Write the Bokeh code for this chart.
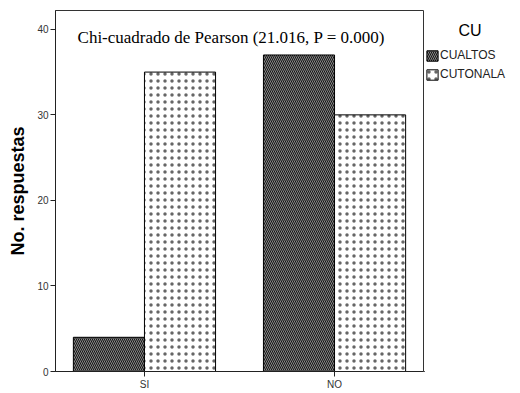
from bokeh.plotting import figure
from bokeh.layouts import row
from bokeh.models import (ColumnDataSource, Range1d, FixedTicker, Legend, LegendItem, Label)
from bokeh.transform import dodge
from bokeh.embed import file_html
from bokeh.resources import INLINE

# ---- data ----
categories = ["SI", "NO"]
cat_pos = [1, 2]
groups = ["CUALTOS", "CUTONALA"]
cualtos = [4, 37]
cutonala = [35, 30]
y_ticks = [0, 10, 20, 30, 40]
annotation = "Chi-cuadrado de Pearson (21.016, P = 0.000)"
legend_title = "CU"

src = ColumnDataSource(dict(x=cat_pos, cualtos=cualtos, cutonala=cutonala))

H = 392
FRAME_BOTTOM = 372  # page y of the frame bottom (shared by both panels)
bw = 0.374
style1 = dict(fill_color="#161616", line_color="black", line_width=1,
              hatch_pattern="\\", hatch_color="#888888", hatch_scale=4, hatch_weight=1)
style2 = dict(fill_color="white", line_color="black", line_width=1,
              hatch_pattern="dot", hatch_color="#666666", hatch_scale=7, hatch_weight=1)

# ---- main chart ----
p = figure(width=424, height=H, output_backend="svg", toolbar_location=None,
           x_range=Range1d(0.532, 2.468), y_range=Range1d(0, 42.2),
           min_border_left=55, min_border_top=10, min_border_right=1, min_border_bottom=0)
p.background_fill_color = "white"
p.border_fill_color = "white"

p.vbar(x=dodge("x", -bw / 2), top="cualtos", width=bw, source=src, **style1)
p.vbar(x=dodge("x", bw / 2), top="cutonala", width=bw, source=src, **style2)

p.xgrid.visible = False
p.ygrid.visible = False
p.outline_line_color = "#333333"

p.xaxis.ticker = FixedTicker(ticks=cat_pos)
p.xaxis.major_label_overrides = {x: c for x, c in zip(cat_pos, categories)}
p.yaxis.ticker = FixedTicker(ticks=y_ticks)
for ax in (p.xaxis[0], p.yaxis[0]):
    ax.major_tick_in = 0
    ax.major_tick_out = 5
    ax.minor_tick_in = 0
    ax.minor_tick_out = 0
    ax.major_label_text_font = "Liberation Sans"
    ax.major_label_text_font_size = "10px"
    ax.major_label_text_color = "#333333"
    ax.axis_line_color = "#222222"
    ax.major_tick_line_color = "#222222"
    ax.major_label_standoff = 2
p.yaxis.axis_label = "No. respuestas"
p.yaxis.axis_label_text_font = "Liberation Sans"
p.yaxis.axis_label_text_font_size = "18px"
p.yaxis.axis_label_text_font_style = "bold"
p.yaxis.axis_label_text_color = "black"
p.yaxis.axis_label_standoff = 6

p.add_layout(Label(x=0.648, y=39.0, text=annotation, text_font="Liberation Serif",
                   text_font_size="17px", text_baseline="middle", text_color="black"))

# ---- legend panel (same bars, kept out of view, only to key the legend) ----
pl = figure(width=96, height=H, output_backend="svg", toolbar_location=None,
            x_axis_location=None, y_axis_location=None, min_border=0,
            x_range=Range1d(100, 101), y_range=Range1d(100, 101))
pl.outline_line_color = None
pl.grid.visible = False
pl.background_fill_color = "white"
pl.border_fill_color = "white"
k1 = pl.vbar(x=dodge("x", -bw / 2), top="cualtos", width=bw, source=src, **style1)
k2 = pl.vbar(x=dodge("x", bw / 2), top="cutonala", width=bw, source=src, **style2)

legend = Legend(items=[LegendItem(label=groups[0], renderers=[k1]),
                       LegendItem(label=groups[1], renderers=[k2])],
                location=(1, FRAME_BOTTOM - 82))
legend.label_text_font = "Liberation Sans"
legend.label_text_font_size = "12px"
legend.label_text_color = "#222222"
legend.label_standoff = 1
legend.glyph_width = 14
legend.glyph_height = 13
legend.spacing = 5
legend.padding = 0
legend.margin = 0
legend.border_line_color = None
legend.background_fill_alpha = 0
pl.add_layout(legend)
pl.add_layout(Label(x=34, y=FRAME_BOTTOM - 31, x_units="screen", y_units="screen",
                    text=legend_title, text_font="Liberation Sans", text_font_size="16px",
                    text_baseline="middle", text_color="black"))

open("out.html", "w").write(file_html(row(p, pl), INLINE))
